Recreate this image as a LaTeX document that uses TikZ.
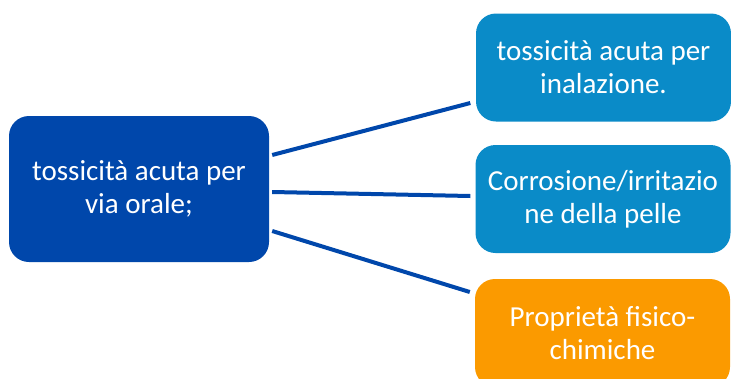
\documentclass[tikz,border=0pt]{standalone}
\usepackage{fontspec}
\setmainfont{Carlito}
\usepackage{xcolor}
\usetikzlibrary{positioning,calc}
\definecolor{darkblu}{HTML}{0047AB}
\definecolor{lightblu}{HTML}{0A8BC8}
\definecolor{arancio}{HTML}{FB9A00}

\begin{document}
\begin{tikzpicture}[x=1pt,y=-1pt]
  \tikzset{
    box/.style={rectangle,rounded corners=20pt,inner sep=0pt,align=center,text=white,
                font=\fontsize{29}{33}\selectfont},
    root/.style={box,fill=darkblu,minimum width=260pt,minimum height=146pt},
    leaf/.style={box,fill=lightblu,minimum width=255pt,minimum height=108pt},
    conn/.style={line width=4pt,darkblu}}
  \clip (0,0) rectangle (731,378);
  \node[root] (oral) at (139,189){tossicità acuta per\\via orale;};
  \node[leaf] (inal) at (603.5,67.5){tossicità acuta per\\inalazione.};
  \node[leaf] (pelle) at (603,199){Corrosione/irritazio\\ne della pelle};
  \node[leaf,fill=arancio] (fisico) at (602.5,333){Proprietà fisico-\\chimiche};
  \draw[conn]([xshift=3pt,yshift=34pt]oral.east)--([xshift=-5.5pt,yshift=-35.5pt]inal.west);
  \draw[conn]([xshift=3pt,yshift=-3pt]oral.east)--([xshift=-5pt,yshift=3pt]pelle.west);
  \draw[conn]([xshift=3pt,yshift=-42pt]oral.east)--([xshift=-5pt,yshift=41pt]fisico.west);
\end{tikzpicture}
\end{document}
